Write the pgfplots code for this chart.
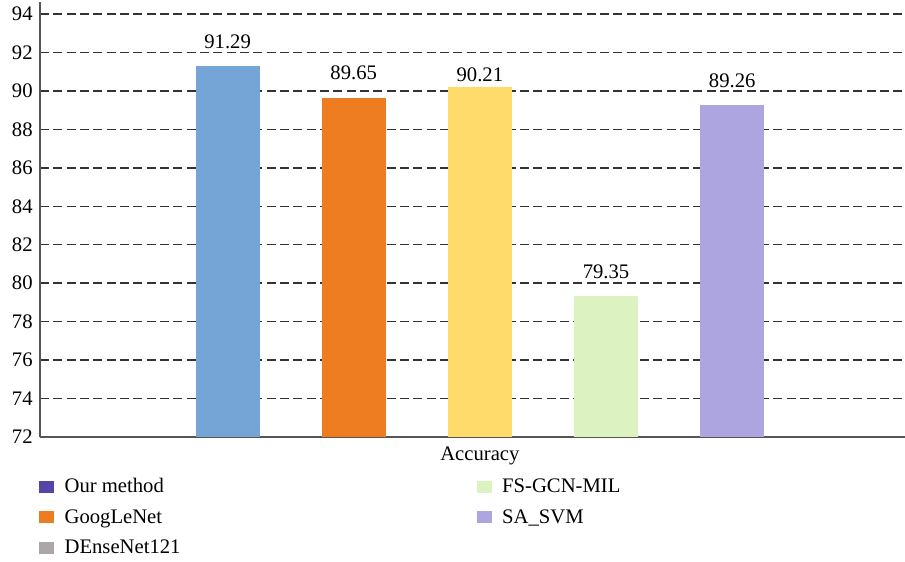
\documentclass[border=0pt]{standalone}
\usepackage{fontspec}
\setmainfont{Liberation Serif}
\usepackage{pgfplots}
\pgfplotsset{compat=1.18}
\usetikzlibrary{calc}

\definecolor{barblue}{HTML}{75A5D6}
\definecolor{barorange}{HTML}{EE7D22}
\definecolor{baryellow}{HTML}{FFDB6B}
\definecolor{bargreen}{HTML}{DDF2C1}
\definecolor{barlav}{HTML}{ADA5E0}
\definecolor{legpurple}{HTML}{5446A6}
\definecolor{leggray}{HTML}{AAA7A6}
\definecolor{gridgray}{HTML}{333333}
\definecolor{axisgray}{HTML}{555555}

\newcommand\chartfont{\fontsize{15.5}{18}\selectfont}

\begin{document}
\begin{tikzpicture}
\begin{axis}[
  scale only axis, width=648.75pt, height=325.9pt,
  xmin=-3.487, xmax=3.37, ymin=72, ymax=94.6,
  axis x line=bottom, axis y line=left,
  axis line style={-, axisgray, line width=1.5pt},
  ytick={72,74,...,94}, xtick={0}, xticklabels={Accuracy},
  major tick length=0pt,
  ymajorgrids,
  major grid style={gridgray, line width=1.1pt, dash pattern=on 6.75pt off 3.25pt},
  ybar, bar width=0.507, bar shift=0pt,
  tick label style={font=\chartfont},
  yticklabel style={xshift=-2pt},
  xticklabel style={yshift=-4pt},
  /pgf/number format/assume math mode=true,
  nodes near coords,
  every node near coord/.append style={font=\chartfont, text=black, yshift=9.5pt},
  legend image code/.code={\fill[#1] (0pt,-4.5pt) rectangle (11.25pt,4.5pt);},
  transpose legend, legend columns=3, legend cell align=left,
  legend style={draw=none, fill=none, font=\chartfont,
    at={(0,0)}, anchor=north west, xshift=-4pt, yshift=-27pt,
    /tikz/every odd column/.append style={column sep=6pt},
    /tikz/every even column/.append style={column sep=220pt},
    /tikz/row sep=7pt},
]
% accuracy of each method, one bar per series
\addplot[fill=barblue, draw=none, forget plot] coordinates {(-2,91.29)};
\addplot[fill=barorange, draw=none, forget plot] coordinates {(-1,89.65)};
\addplot[fill=baryellow, draw=none, forget plot,
  every node near coord/.append style={yshift=-9pt}] coordinates {(0,90.21)};
\addplot[fill=bargreen, draw=none, forget plot] coordinates {(1,79.35)};
\addplot[fill=barlav, draw=none, forget plot] coordinates {(2,89.26)};

\addlegendimage{fill=legpurple, draw=none}
\addlegendentry{Our method}
\addlegendimage{fill=barorange, draw=none}
\addlegendentry{GoogLeNet}
\addlegendimage{fill=leggray, draw=none}
\addlegendentry{DEnseNet121}
\addlegendimage{fill=bargreen, draw=none}
\addlegendentry{FS-GCN-MIL}
\addlegendimage{fill=barlav, draw=none}
\addlegendentry{SA\_SVM}
\end{axis}
\pgfresetboundingbox
\path ($(current axis.south west)+(-30pt,-93pt)$) rectangle
      ($(current axis.south west)+(648.75pt,327.75pt)$);
\end{tikzpicture}
\end{document}
